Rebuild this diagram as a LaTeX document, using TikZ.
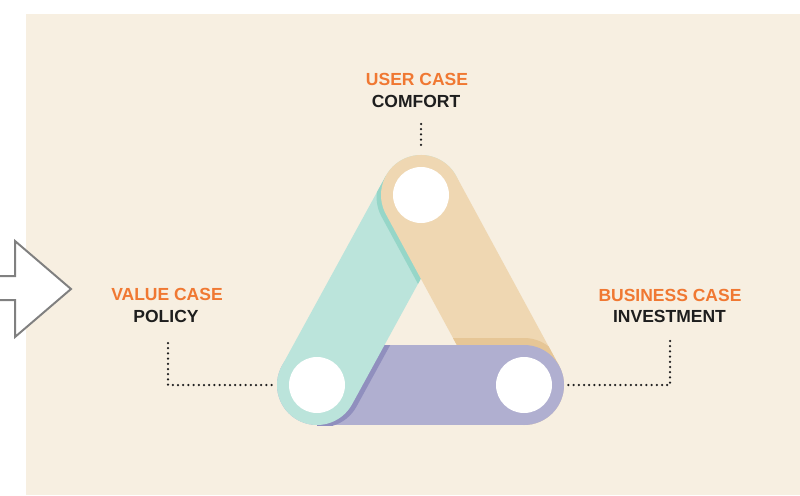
\documentclass[tikz,border=0pt]{standalone}
\usepackage{fontspec}
\setmainfont{Liberation Sans}
\usetikzlibrary{calc}
\definecolor{bg}{HTML}{F7EFE1}
\definecolor{teal1}{HTML}{BBE4DB}
\definecolor{teal2}{HTML}{96D6C8}
\definecolor{tan1}{HTML}{EFD7B2}
\definecolor{tan2}{HTML}{E6C696}
\definecolor{pur1}{HTML}{B0AFD0}
\definecolor{pur2}{HTML}{908FBE}
\definecolor{org}{HTML}{F07832}
\definecolor{txt}{HTML}{1E1E1E}
\definecolor{arrgray}{HTML}{808080}
\begin{document}
\begin{tikzpicture}[x=1pt,y=-1pt,
  lab/.style={font=\bfseries\fontsize{17.5}{20}\selectfont, inner sep=0pt, text=txt},
  labo/.style={lab, text=org},
  dotline/.style={draw=txt, line width=2.5pt, line cap=round, dash pattern=on 0pt off 5.2pt},
  band/.style={line width=80pt, line cap=round},
  hole/.style={circle, fill=white, minimum size=56pt, inner sep=0pt}]
\useasboundingbox (0,0) rectangle (800,495);
% background
\fill[bg] (26,14) rectangle (800,495);
% arrow
\fill[white] (-2,276) -- (15,276) -- (15,241) -- (71,289) -- (15,337) -- (15,300) -- (-2,300) -- cycle;
\draw[arrgray, line width=2pt, line join=miter] (-2,276) -- (15,276) -- (15,241) -- (71,289) -- (15,337) -- (15,300) -- (-2,300);
% vertices
\coordinate (A) at (317,385);
\coordinate (B) at (524,385);
\coordinate (C) at (421,195);
% purple band (bottom)
\draw[band, pur1] (A) -- (B);
% teal shadow on purple
\begin{scope}
  \clip (317,345) rectangle (600,425);
  \draw[band, pur2] ([shift={(4.4,2.4)}]A) -- ([shift={(4.4,2.4)}]C);
\end{scope}
% teal band
\draw[band, teal1] (A) -- (C);
% tan shadow on teal
\begin{scope}
  \clip ($(A)!40pt!90:(C)$) -- ($(C)!40pt!-90:(A)$) -- ($(C)!40pt!90:(A)$) -- ($(A)!40pt!-90:(C)$) -- cycle;
  \draw[band, teal2] ([shift={(-4.4,2.4)}]C) -- ([shift={(-4.4,2.4)}]B);
\end{scope}
% tan band
\draw[band, tan1] (C) -- (B);
% purple shadow on tan
\begin{scope}
  \clip ($(C)!40pt!90:(B)$) -- ($(B)!40pt!-90:(C)$) -- ($(B)!40pt!90:(C)$) -- ($(C)!40pt!-90:(B)$) -- cycle;
  \draw[band, tan2] ([shift={(0,-7)}]A) -- ([shift={(0,-7)}]B);
\end{scope}
% purple over tan near B
\begin{scope}
  \clip (440,300) rectangle (600,440);
  \draw[band, pur1] (A) -- (B);
\end{scope}
% holes
\node[hole] (ha) at (A) {};
\node[hole] (hb) at (B) {};
\node[hole] (hc) at (C) {};
% labels
\node[labo] (user) at (417,79) {USER CASE};
\node[lab] (comfort) at (416,101) {COMFORT};
\node[labo] (value) at (167,294) {VALUE CASE};
\node[lab] (policy) at (166,316) {POLICY};
\node[labo] (business) at (670,295) {BUSINESS CASE};
\node[lab] (invest) at (669.5,316) {INVESTMENT};
% dotted leaders
\coordinate (t1) at (421,124);
\coordinate (t2) at (421,146);
\draw[dotline] (t1) -- (t2);
\coordinate (l1) at (168,343);
\coordinate (l2) at (168,385);
\coordinate (l3) at (273,385);
\draw[dotline] (l1) -- (l2) -- (l3);
\coordinate (r1) at (670,341);
\coordinate (r2) at (670,385);
\coordinate (r3) at (565,385);
\draw[dotline] (r1) -- (r2) -- (r3);
\end{tikzpicture}
\end{document}
